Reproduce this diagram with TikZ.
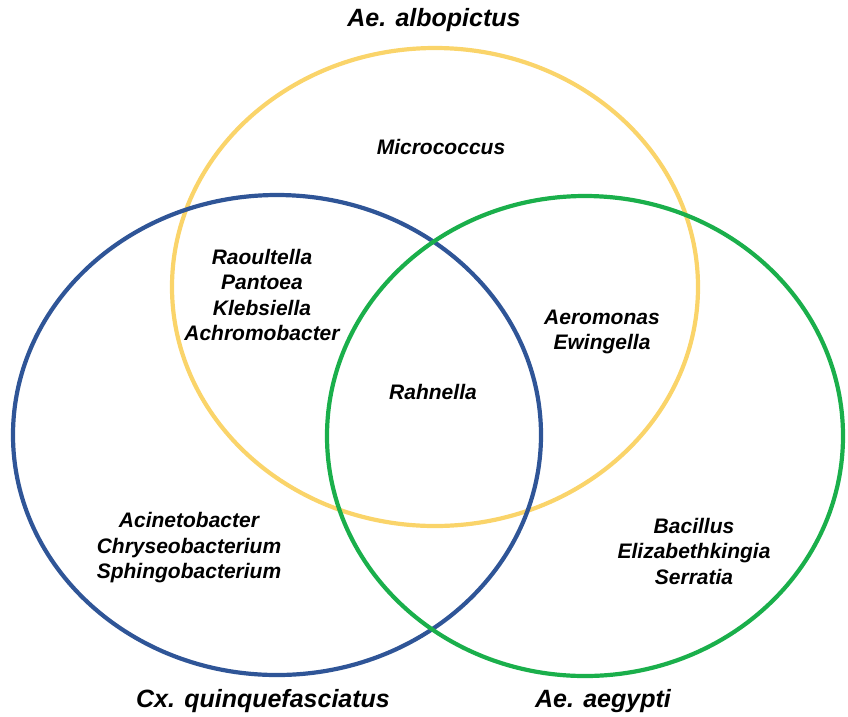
\documentclass[tikz,border=0pt]{standalone}
\usepackage{fontspec}
\setmainfont{Liberation Sans}
\definecolor{vyellow}{HTML}{FAD46A}
\definecolor{vblue}{HTML}{2F5597}
\definecolor{vgreen}{HTML}{1AAF4B}
\begin{document}
\begin{tikzpicture}[x=1pt,y=-1pt,
  ring/.style={line width=4.2pt},
  lbl/.style={font=\fontsize{21}{25.5}\selectfont\bfseries\itshape, align=center, inner sep=0pt, text=black},
  ttl/.style={font=\fontsize{25}{30}\selectfont\bfseries\itshape, inner sep=0pt, text=black}]
\useasboundingbox (0,0) rectangle (848,716);
% circles
\draw[ring, vyellow] (435,287) ellipse [x radius=263pt, y radius=239pt];
\draw[ring, vblue] (277,435) ellipse [x radius=264pt, y radius=240pt];
\draw[ring, vgreen] (585,436) ellipse [x radius=258pt, y radius=240pt];
% titles
\node[ttl] (tAlbo) at (434,20) {Ae. albopictus};
\node[ttl] (tCx) at (263,701) {Cx. quinquefasciatus};
\node[ttl] (tAeg) at (603,701) {Ae. aegypti};
% labels
\node[lbl] (micro) at (441,147) {Micrococcus};
\node[lbl] (raoul) at (262,295) {Raoultella\\Pantoea\\Klebsiella\\Achromobacter};
\node[lbl] (aero) at (602,332) {Aeromonas\\Ewingella};
\node[lbl] (rahn) at (433,392) {Rahnella};
\node[lbl] (acin) at (189,548) {Acinetobacter\\Chryseobacterium\\Sphingobacterium};
\node[lbl] (baci) at (694,551) {Bacillus\\Elizabethkingia\\Serratia};
\end{tikzpicture}
\end{document}
